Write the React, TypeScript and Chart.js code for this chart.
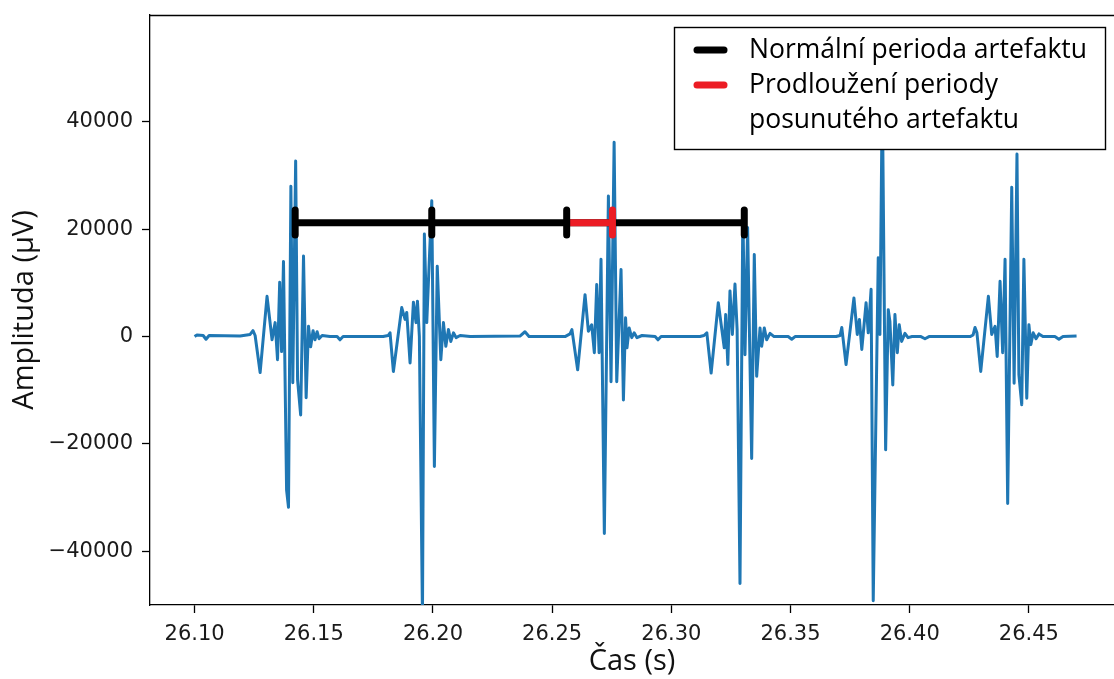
import React, { useEffect, useRef } from 'react';
import { Chart, registerables } from 'chart.js';

Chart.register(...registerables);

// ---- data ----
const SIGNAL_TIME = [
  26.1000, 26.1010, 26.1036, 26.1048, 26.1061, 26.1191, 26.1233, 26.1245, 26.1254, 26.1275,
  26.1304, 26.1325, 26.1338, 26.1348, 26.1357, 26.1365, 26.1373, 26.1386, 26.1394, 26.1404,
  26.1412, 26.1424, 26.1432, 26.1445, 26.1457, 26.1468, 26.1478, 26.1487, 26.1497, 26.1505,
  26.1514, 26.1522, 26.1535, 26.1568, 26.1598, 26.1610, 26.1623, 26.1791, 26.1812, 26.1820,
  26.1834, 26.1869, 26.1883, 26.1890, 26.1904, 26.1918, 26.1929, 26.1935, 26.1943, 26.1956,
  26.1964, 26.1974, 26.1995, 26.2006, 26.2018, 26.2033, 26.2044, 26.2054, 26.2065, 26.2075,
  26.2086, 26.2097, 26.2114, 26.2156, 26.2365, 26.2386, 26.2403, 26.2554, 26.2575, 26.2583,
  26.2607, 26.2638, 26.2652, 26.2666, 26.2677, 26.2687, 26.2697, 26.2705, 26.2719, 26.2736,
  26.2747, 26.2760, 26.2771, 26.2789, 26.2799, 26.2808, 26.2814, 26.2823, 26.2834, 26.2844,
  26.2856, 26.2877, 26.2932, 26.2944, 26.2957, 26.3120, 26.3137, 26.3149, 26.3167, 26.3197,
  26.3211, 26.3222, 26.3228, 26.3237, 26.3246, 26.3256, 26.3267, 26.3276, 26.3288, 26.3300,
  26.3309, 26.3320, 26.3337, 26.3348, 26.3358, 26.3372, 26.3379, 26.3390, 26.3400, 26.3414,
  26.3431, 26.3490, 26.3505, 26.3519, 26.3691, 26.3708, 26.3715, 26.3733, 26.3766, 26.3780,
  26.3789, 26.3799, 26.3817, 26.3826, 26.3838, 26.3847, 26.3868, 26.3875, 26.3885, 26.3899,
  26.3910, 26.3917, 26.3929, 26.3938, 26.3948, 26.3956, 26.3966, 26.3980, 26.3993, 26.4010,
  26.4047, 26.4064, 26.4081, 26.4253, 26.4266, 26.4274, 26.4282, 26.4298, 26.4330, 26.4344,
  26.4358, 26.4367, 26.4379, 26.4390, 26.4400, 26.4411, 26.4428, 26.4438, 26.4450, 26.4458,
  26.4470, 26.4479, 26.4491, 26.4500, 26.4508, 26.4518, 26.4530, 26.4542, 26.4559, 26.4609,
  26.4626, 26.4643, 26.4700,
];

const SIGNAL_AMP = [
  0, 300, 200, -500, 200, 100, 400, 1100, 200, -6700,
  7500, -600, 2600, -4300, 10100, -2800, 14000, -28600, -31800, 28000,
  -8600, 32700, -8000, -14600, 15000, -11400, 1900, -1900, 1100, -600,
  900, -400, 200, 0, 0, -600, 0, 0, 200, 700,
  -6500, 5400, 3200, 4500, -4900, 6400, 2600, 6600, 0, -52000,
  19100, 2600, 25300, -24200, 13100, -4300, 2600, -1800, 1300, -900,
  700, -200, 200, 0, 100, 900, 0, 0, 500, 1300,
  -6200, 7800, 1000, 2200, -3000, 9700, -3000, 14400, -36700, 26200,
  -8400, 36200, -8400, 12500, -11800, 3500, -2100, 1600, -200, 700,
  -200, 200, 0, -600, 0, 0, 200, 700, -6800, 6300,
  1600, -2100, 4100, -5200, 8500, 400, 9800, 1300, -46000, 23700,
  -3400, 20300, -22700, 15300, -7400, 1600, -1800, 1600, -600, 600,
  0, 0, -500, 0, 0, 200, 1700, -5200, 7200, 400,
  3200, -2400, 6300, 700, 8800, -49200, 14700, 400, 46000, -21100,
  5000, 2800, -9000, 4100, -3000, 2200, -900, 600, -200, 0,
  0, -400, 0, 0, 300, 1700, 700, -6500, 7500, 400,
  1900, -3700, 10300, -3000, 14400, -31100, 27800, -8700, 34000, -7100,
  -12700, 14400, -11500, 2200, -1500, 700, -400, 500, 0, 0,
  -500, 0, 100,
];

const X_TICKS = [26.10, 26.15, 26.20, 26.25, 26.30, 26.35, 26.40, 26.45];
const Y_TICKS = [-40000, -20000, 0, 20000, 40000];
const X_LIMITS = [26.0813, 26.4857];
const Y_LIMITS = [-50000, 59900];

// period markers (s) and their level (µV)
const PERIOD_MARKS = [26.1422, 26.1995, 26.2561, 26.3306];
const SHIFT_MARKS = [26.2561, 26.2753];
const PERIOD_LEVEL = 21200;
const MARK_SPAN = [18900, 23600];

const LEGEND_LABELS = [
  ['Normální perioda artefaktu'],
  ['Prodloužení periody', 'posunutého artefaktu'],
];
const X_TITLE = 'Čas (s)';
const Y_TITLE = 'Amplituda (μV)';

// ---- styles ----
const BLUE = '#1f77b4';
const BLACK = '#000000';
const RED = '#ec1c24';
const LEGEND_COLORS = [BLACK, RED];
const TEXT_FONT = '"Open Sans", "DejaVu Sans", sans-serif';
const TICK_FONT = '"DejaVu Sans", sans-serif';

function capPoints(times: number[]) {
  const pts: { x: number; y: number | null }[] = [];
  times.forEach((t) => {
    pts.push({ x: t, y: MARK_SPAN[0] });
    pts.push({ x: t, y: MARK_SPAN[1] });
    pts.push({ x: t, y: null });
  });
  return pts;
}

function zeroPadding(scale: any) {
  scale.paddingTop = 0;
  scale.paddingBottom = 0;
  scale.paddingLeft = 0;
  scale.paddingRight = 0;
}

const framePlugin = {
  id: 'frameAndLegend',
  afterDraw(chart: any) {
    const { ctx, chartArea: a } = chart;
    ctx.save();
    // top spine
    ctx.strokeStyle = '#000';
    ctx.lineWidth = 1.3;
    ctx.beginPath();
    ctx.moveTo(a.left, Math.round(a.top) + 0.5);
    ctx.lineTo(a.right, Math.round(a.top) + 0.5);
    ctx.stroke();

    // legend box
    const bw = 431;
    const bh = 122;
    const bx = a.right - 9 - bw;
    const by = a.top + 12;
    ctx.fillStyle = '#ffffff';
    ctx.fillRect(bx, by, bw, bh);
    ctx.strokeStyle = '#000';
    ctx.lineWidth = 1.4;
    ctx.strokeRect(Math.round(bx) + 0.5, Math.round(by) + 0.5, bw, bh);

    ctx.font = `26.5px ${TEXT_FONT}`;
    ctx.textBaseline = 'middle';
    ctx.textAlign = 'left';
    let row = 0;
    LEGEND_LABELS.forEach((lines, i) => {
      const ly = by + 23 + row * 35;
      ctx.strokeStyle = LEGEND_COLORS[i];
      ctx.lineWidth = 7;
      ctx.lineCap = 'round';
      ctx.beginPath();
      ctx.moveTo(bx + 23, ly);
      ctx.lineTo(bx + 50, ly);
      ctx.stroke();
      ctx.fillStyle = '#000';
      lines.forEach((txt, j) => {
        ctx.fillText(txt, bx + 75, by + 23 + (row + j) * 35);
      });
      row += lines.length;
    });
    ctx.restore();
  },
};

export default function App() {
  const canvasRef = useRef<HTMLCanvasElement | null>(null);

  useEffect(() => {
    if (!canvasRef.current) return;
    const signal = SIGNAL_TIME.map((t, i) => ({ x: t, y: SIGNAL_AMP[i] }));
    const periodLine = [
      { x: PERIOD_MARKS[0], y: PERIOD_LEVEL },
      { x: PERIOD_MARKS[PERIOD_MARKS.length - 1], y: PERIOD_LEVEL },
    ];
    const shiftLine = [
      { x: SHIFT_MARKS[0], y: PERIOD_LEVEL },
      { x: SHIFT_MARKS[1], y: PERIOD_LEVEL },
    ];

    const chart = new Chart(canvasRef.current, {
      type: 'line',
      data: {
        datasets: [
          {
            label: 'signal',
            data: signal,
            borderColor: BLUE,
            borderWidth: 3,
            pointRadius: 0,
            tension: 0,
            borderJoinStyle: 'round',
            order: 5,
          },
          {
            label: LEGEND_LABELS[0].join(' '),
            data: periodLine,
            borderColor: BLACK,
            borderWidth: 7,
            pointRadius: 0,
            borderCapStyle: 'butt',
            order: 4,
          },
          {
            label: LEGEND_LABELS[1].join(' '),
            data: shiftLine,
            borderColor: RED,
            borderWidth: 7,
            pointRadius: 0,
            borderCapStyle: 'butt',
            order: 3,
          },
          {
            label: 'period marks',
            data: capPoints(PERIOD_MARKS),
            borderColor: BLACK,
            borderWidth: 7,
            pointRadius: 0,
            borderCapStyle: 'round',
            spanGaps: false,
            order: 2,
          },
          {
            label: 'shift mark',
            data: capPoints([SHIFT_MARKS[1]]),
            borderColor: RED,
            borderWidth: 7,
            pointRadius: 0,
            borderCapStyle: 'round',
            spanGaps: false,
            order: 1,
          },
        ] as any,
      },
      options: {
        responsive: false,
        maintainAspectRatio: false,
        animation: false,
        devicePixelRatio: 1,
        layout: { padding: { top: 15, left: 0, right: 0, bottom: 0 } },
        plugins: {
          legend: { display: false },
          tooltip: { enabled: false },
          title: { display: false },
        },
        elements: { line: { fill: false } },
        scales: {
          x: {
            type: 'linear',
            min: X_LIMITS[0],
            max: X_LIMITS[1],
            afterBuildTicks: (scale: any) => {
              scale.ticks = X_TICKS.map((value) => ({ value }));
            },
            afterFit: (scale: any) => {
              scale.height = 74;
              zeroPadding(scale);
            },
            grid: {
              display: true,
              drawOnChartArea: false,
              drawTicks: true,
              tickLength: 8,
              tickWidth: 1.3,
              tickColor: '#000',
            },
            border: { display: true, color: '#000', width: 1.3 },
            ticks: {
              autoSkip: false,
              maxRotation: 0,
              minRotation: 0,
              padding: 9,
              color: '#1a1a1a',
              font: { family: TICK_FONT, size: 21 },
              callback: (v: any) => Number(v).toFixed(2),
            },
            title: {
              display: true,
              text: X_TITLE,
              color: '#111',
              font: { family: TEXT_FONT, size: 29, lineHeight: 1.2 },
              padding: { top: 0, bottom: 0 },
            },
          },
          y: {
            type: 'linear',
            min: Y_LIMITS[0],
            max: Y_LIMITS[1],
            afterBuildTicks: (scale: any) => {
              scale.ticks = Y_TICKS.map((value) => ({ value }));
            },
            afterFit: (scale: any) => {
              scale.width = 150;
              zeroPadding(scale);
            },
            grid: {
              display: true,
              drawOnChartArea: false,
              drawTicks: true,
              tickLength: 8,
              tickWidth: 1.3,
              tickColor: '#000',
            },
            border: { display: true, color: '#000', width: 1.3 },
            ticks: {
              autoSkip: false,
              padding: 9,
              color: '#1a1a1a',
              font: { family: TICK_FONT, size: 21 },
              callback: (v: any) => (Number(v) < 0 ? '\u2212' + Math.abs(Number(v)) : String(v)),
            },
            title: {
              display: true,
              text: Y_TITLE,
              color: '#111',
              font: { family: TEXT_FONT, size: 29, lineHeight: 1.2 },
              padding: { top: 7, bottom: 0 },
            },
          },
        },
      } as any,
      plugins: [framePlugin],
    });

    return () => chart.destroy();
  }, []);

  return (
    <div style={{ position: 'fixed', left: 0, top: 0, width: 1114, height: 679, background: '#fff' }}>
      <canvas ref={canvasRef} width={1114} height={679} style={{ display: 'block' }} />
    </div>
  );
}
